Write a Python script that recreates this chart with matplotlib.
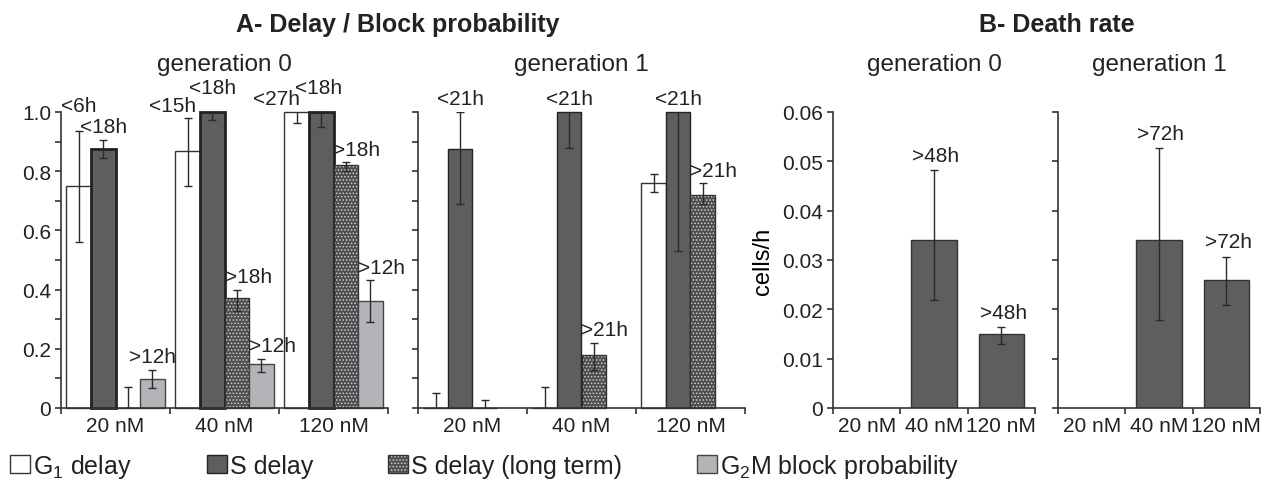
import matplotlib
matplotlib.use('Agg')
import matplotlib.pyplot as plt
from matplotlib.patches import Patch
from matplotlib.legend_handler import HandlerTuple
import numpy as np

plt.rcParams['font.family'] = ['Liberation Sans', 'DejaVu Sans']
plt.rcParams['mathtext.fontset'] = 'custom'
plt.rcParams['mathtext.rm'] = 'Liberation Sans'
plt.rcParams['mathtext.it'] = 'Liberation Sans:italic'
plt.rcParams['hatch.linewidth'] = 0.7
plt.rcParams['text.color'] = '#222222'
plt.rcParams['axes.edgecolor'] = '#333333'
plt.rcParams['xtick.color'] = '#333333'
plt.rcParams['ytick.color'] = '#333333'
plt.rcParams['xtick.labelcolor'] = '#222222'
plt.rcParams['ytick.labelcolor'] = '#222222'

doses = ['20 nM', '40 nM', '120 nM']
series = ['G$_1$ delay', 'S delay', 'S delay (long term)', 'G$_2$M block probability']

# A - delay / block probability, generation 0 (one row per series, one column per dose)
a0_vals = [[0.750, 0.869, 1.000],
           [0.876, 1.000, 1.000],
           [0.000, 0.372, 0.822],
           [0.098, 0.149, 0.360]]
a0_err_lo = [[0.190, 0.120, 0.037],
             [0.030, 0.028, 0.050],
             [0.000, 0.043, 0.022],
             [0.030, 0.028, 0.070]]
a0_err_hi = [[0.186, 0.110, 0.037],
             [0.030, 0.028, 0.050],
             [0.070, 0.028, 0.008],
             [0.032, 0.017, 0.071]]
a0_labels = [['<6h', '<15h', '<27h'],
             ['<18h', '<18h', '<18h'],
             ['', '>18h', '>18h'],
             ['>12h', '>12h', '>12h']]

# A - generation 1 (no G2M block bars)
a1_vals = [[0.000, 0.000, 0.760],
           [0.876, 1.000, 1.000],
           [0.000, 0.180, 0.720],
           [np.nan, np.nan, np.nan]]
a1_err_lo = [[0.000, 0.000, 0.031],
             [0.187, 0.121, 0.470],
             [0.000, 0.050, 0.031],
             [np.nan, np.nan, np.nan]]
a1_err_hi = [[0.050, 0.070, 0.029],
             [0.124, 0.030, 0.030],
             [0.028, 0.040, 0.040],
             [np.nan, np.nan, np.nan]]
a1_labels = [['', '', ''],
             ['<21h', '<21h', '<21h'],
             ['', '>21h', '>21h'],
             ['', '', '']]

# B - death rate (cells/h)
b0_vals = [0.0, 0.0341, 0.0150]
b0_err_lo = [0.0, 0.0123, 0.0020]
b0_err_hi = [0.0, 0.0141, 0.0014]
b0_labels = ['', '>48h', '>48h']

b1_vals = [0.0, 0.0341, 0.0260]
b1_err_lo = [0.0, 0.0162, 0.0051]
b1_err_hi = [0.0, 0.0186, 0.0047]
b1_labels = ['', '>72h', '>72h']

a_yticklabels = ['0', '', '0.2', '', '0.4', '', '0.6', '', '0.8', '', '1.0']
b_yticklabels = ['0', '0.01', '0.02', '0.03', '0.04', '0.05', '0.06']

# styling
faces = ['white', '#5e5e60', '#4e4e50', '#b3b4b7']
edges = ['#333333', '#222222', '#333333', '#444444']
DOT = '.....'
DOT_COLOR = '#d0d0d0'
PX = 0.72  # pixels -> points at 100 dpi

# hand nudges for the crowded labels, (series, dose) -> (dx px, dy px)
a0_nudge = {(0, 0): (0, 12), (0, 1): (-15, 0), (0, 2): (-20, 0),
            (1, 1): (0, 11), (1, 2): (-3, 11), (3, 0): (-11, 0)}
a1_nudge = {}

fig = plt.figure(figsize=(12.65, 4.81), dpi=100)
W, H = 1265, 481


def axes_px(x0, x1, y0=113, y1=409):
    return fig.add_axes([x0 / W, 1 - y1 / H, (x1 - x0) / W, (y1 - y0) / H])


def style_axes(ax, ymax, ticklabels, show_labels):
    ax.set_xlim(0, 3)
    ax.set_ylim(0, ymax)
    for s in ['top', 'right']:
        ax.spines[s].set_visible(False)
    for s in ['left', 'bottom']:
        ax.spines[s].set_linewidth(1.2)
    ax.set_xticks([0, 1, 2, 3])
    ax.set_xticklabels([])
    ax.set_xticks([0.5, 1.5, 2.5], minor=True)
    ax.set_xticklabels(doses, minor=True, fontsize=15)
    ax.tick_params(axis='x', which='major', length=6 * PX, width=1.2, direction='out')
    ax.tick_params(axis='x', which='minor', length=0, pad=8 * PX)
    ax.set_yticks(np.linspace(0, ymax, len(ticklabels)))
    ax.set_yticklabels(ticklabels if show_labels else [''] * len(ticklabels), fontsize=15)
    ax.tick_params(axis='y', length=6 * PX, width=1.2, direction='out', pad=4 * PX)


def draw_a(ax, vals, lo, hi, labels, nudge, s_lw):
    w = 0.225
    x = np.arange(3)
    for i in range(4):
        v = np.array(vals[i], dtype=float)
        xs = x + 0.05 + w * (i + 0.5)
        lw = s_lw if i == 1 else 1.0
        if i == 2:
            ax.bar(xs, v, w, color=faces[i], edgecolor=DOT_COLOR, hatch=DOT, lw=0, clip_on=False)
            ax.bar(xs, v, w, fill=False, edgecolor=edges[i], lw=1.0, clip_on=False)
        else:
            ax.bar(xs, v, w, color=faces[i], edgecolor=edges[i], lw=lw, clip_on=False)
        ok = ~np.isnan(v)
        ax.errorbar(xs[ok], v[ok], yerr=[np.array(lo[i])[ok], np.array(hi[i])[ok]],
                    fmt='none', ecolor='#2a2a2a', elinewidth=1.0, capsize=2.6, capthick=1.0)
        for j in range(3):
            txt = labels[i][j]
            if not txt:
                continue
            top = min(v[j] + hi[i][j], 1.0)
            dx, dy = nudge.get((i, j), (0, 0))
            if txt.startswith('>'):
                xa, ha = xs[j] - w / 2, 'left'
            else:
                xa, ha = xs[j], 'center'
            ax.annotate(txt, (xa, top), xytext=(dx * PX, (13 + dy) * PX),
                        textcoords='offset points', ha=ha, va='center',
                        fontsize=15, annotation_clip=False)


def draw_b(ax, vals, lo, hi, labels):
    w = 0.67
    xs = np.arange(3) + 0.5
    v = np.array(vals)
    ax.bar(xs[1:], v[1:], w, color=faces[1], edgecolor='#333333', lw=1.0)
    ax.errorbar(xs[1:], v[1:], yerr=[lo[1:], hi[1:]], fmt='none', ecolor='#2a2a2a',
                elinewidth=1.0, capsize=2.6, capthick=1.0)
    for j in range(3):
        if labels[j]:
            ax.annotate(labels[j], (xs[j], v[j] + hi[j]), xytext=(2 * PX, 15 * PX),
                        textcoords='offset points', ha='center', va='center',
                        fontsize=15, annotation_clip=False)


ax_a0 = axes_px(61, 388)
ax_a1 = axes_px(418, 745)
ax_b0 = axes_px(833, 1035)
ax_b1 = axes_px(1058, 1260)

style_axes(ax_a0, 1.0, a_yticklabels, True)
style_axes(ax_a1, 1.0, a_yticklabels, False)
style_axes(ax_b0, 0.06, b_yticklabels, True)
style_axes(ax_b1, 0.06, b_yticklabels, False)

draw_a(ax_a0, a0_vals, a0_err_lo, a0_err_hi, a0_labels, a0_nudge, 2.0)
draw_a(ax_a1, a1_vals, a1_err_lo, a1_err_hi, a1_labels, a1_nudge, 1.0)
draw_b(ax_b0, b0_vals, b0_err_lo, b0_err_hi, b0_labels)
draw_b(ax_b1, b1_vals, b1_err_lo, b1_err_hi, b1_labels)

for ax, t in [(ax_a0, 'generation 0'), (ax_a1, 'generation 1'),
              (ax_b0, 'generation 0'), (ax_b1, 'generation 1')]:
    ax.set_title(t, fontsize=17.5, pad=42 * PX)

ax_b0.set_ylabel('cells/h', fontsize=17, labelpad=6)

fig.text(398 / W, 1 - 32 / H, 'A- Delay / Block probability', fontsize=18,
         fontweight='bold', ha='center', va='baseline')
fig.text(1057 / W, 1 - 32 / H, 'B- Death rate', fontsize=18,
         fontweight='bold', ha='center', va='baseline')

handles = [Patch(facecolor=faces[0], edgecolor=edges[0], lw=1.0),
           Patch(facecolor=faces[1], edgecolor=edges[1], lw=1.0),
           (Patch(facecolor=faces[2], edgecolor=DOT_COLOR, hatch=DOT, lw=0),
            Patch(fill=False, edgecolor=edges[2], lw=1.0)),
           Patch(facecolor=faces[3], edgecolor=edges[3], lw=1.0)]
fig.legend(handles, series, loc='center left', bbox_to_anchor=(10 / W, 1 - 467 / H),
           ncol=4, frameon=False, fontsize=18, handlelength=0.8, handleheight=0.72,
           handletextpad=0.12, columnspacing=3.0, borderpad=0, borderaxespad=0,
           handler_map={tuple: HandlerTuple(ndivide=1, pad=0)})

fig.savefig('out.png', dpi=100)
